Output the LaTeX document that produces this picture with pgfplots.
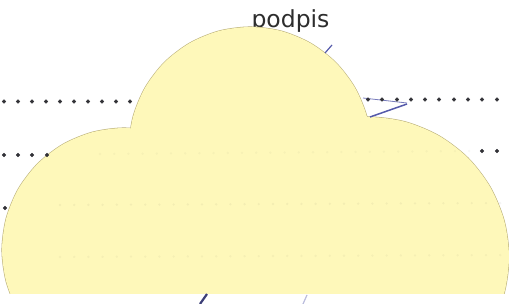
\documentclass[border=0pt]{standalone}
\usepackage{pgfplots}
\pgfplotsset{compat=1.18}
\usepackage{fontspec}
\newfontfamily\labelfont{DejaVu Sans}
\definecolor{cloud}{RGB}{254,248,186}
\definecolor{cloudedge}{RGB}{185,175,120}
\definecolor{dots}{RGB}{50,50,55}
\definecolor{pen}{RGB}{85,90,170}
\definecolor{txt}{RGB}{45,45,45}
\begin{document}
\begin{tikzpicture}
\begin{axis}[width=509pt,height=304pt,scale only axis,
  xmin=0,xmax=509,ymin=0,ymax=304,y dir=reverse,hide axis,clip=true]
% background
\addplot[fill=white,draw=none] coordinates {(-5,-5)(515,-5)(515,310)(-5,310)};
% dotted rows
\addplot[only marks,mark=*,mark size=1.8pt,color=dots] coordinates {
(4,101.5)(18,101.5)(32,101.5)(46,101.5)(60,101.5)(74,101.5)(88,101.5)(102,101.5)(116,101.5)(130,101.5)
(368,99.5)(382,99.5)(397,99.5)(411,99.5)(425,99.5)(439,99.5)(454,99.5)(468,99.5)(482,99.5)(497,99.5)(510,99.5)
(4,155)(18,155)(32,155)(47,155)
(482,151)(497,151)(510,151)
(5,208)(510,203)};
% title text
\node[anchor=base,font=\labelfont\fontsize{23.5}{26}\selectfont,text=txt,inner sep=0pt] at (axis cs:290.5,27.5) {podpis};
% cloud outlines
\addplot[draw=cloudedge,line width=1.1pt,smooth] coordinates {
(124,372)(155.6,367.8)(185,355.7)(210.3,336.3)(229.7,311)(241.8,281.6)(246,250)(241.8,218.4)(229.7,189)(210.3,163.7)(185,144.3)(155.6,132.2)(124,128)(92.4,132.2)(63,144.3)(37.7,163.7)(18.3,189)(6.2,218.4)(2,250)(6.2,281.6)(18.3,311)(37.7,336.3)(63,355.7)(92.4,367.8)(124,372)};
\addplot[draw=cloudedge,line width=1.1pt,smooth] coordinates {
(250,269)(281.3,264.9)(310.5,252.8)(335.6,233.6)(354.8,208.5)(366.9,179.3)(371,148)(366.9,116.7)(354.8,87.5)(335.6,62.4)(310.5,43.2)(281.3,31.1)(250,27)(218.7,31.1)(189.5,43.2)(164.4,62.4)(145.2,87.5)(133.1,116.7)(129,148)(133.1,179.3)(145.2,208.5)(164.4,233.6)(189.5,252.8)(218.7,264.9)(250,269)};
\addplot[draw=cloudedge,line width=1.1pt,smooth] coordinates {
(369,397)(405.2,392.2)(439,378.2)(468,356)(490.2,327)(504.2,293.2)(509,257)(504.2,220.8)(490.2,187)(468,158)(439,135.8)(405.2,121.8)(369,117)(332.8,121.8)(299,135.8)(270,158)(247.8,187)(233.8,220.8)(229,257)(233.8,293.2)(247.8,327)(270,356)(299,378.2)(332.8,392.2)(369,397)};
% cloud fills
\addplot[fill=cloud,draw=none,smooth] coordinates {
(124,372)(155.6,367.8)(185,355.7)(210.3,336.3)(229.7,311)(241.8,281.6)(246,250)(241.8,218.4)(229.7,189)(210.3,163.7)(185,144.3)(155.6,132.2)(124,128)(92.4,132.2)(63,144.3)(37.7,163.7)(18.3,189)(6.2,218.4)(2,250)(6.2,281.6)(18.3,311)(37.7,336.3)(63,355.7)(92.4,367.8)(124,372)};
\addplot[fill=cloud,draw=none,smooth] coordinates {
(250,269)(281.3,264.9)(310.5,252.8)(335.6,233.6)(354.8,208.5)(366.9,179.3)(371,148)(366.9,116.7)(354.8,87.5)(335.6,62.4)(310.5,43.2)(281.3,31.1)(250,27)(218.7,31.1)(189.5,43.2)(164.4,62.4)(145.2,87.5)(133.1,116.7)(129,148)(133.1,179.3)(145.2,208.5)(164.4,233.6)(189.5,252.8)(218.7,264.9)(250,269)};
\addplot[fill=cloud,draw=none,smooth] coordinates {
(369,397)(405.2,392.2)(439,378.2)(468,356)(490.2,327)(504.2,293.2)(509,257)(504.2,220.8)(490.2,187)(468,158)(439,135.8)(405.2,121.8)(369,117)(332.8,121.8)(299,135.8)(270,158)(247.8,187)(233.8,220.8)(229,257)(233.8,293.2)(247.8,327)(270,356)(299,378.2)(332.8,392.2)(369,397)};
% faint dots showing through
\addplot[draw=dots,opacity=0.05,line width=2.6pt,line cap=round,dash pattern=on 0pt off 14.2pt] coordinates {(60,205)(505,203)};
\addplot[draw=dots,opacity=0.045,line width=2.6pt,line cap=round,dash pattern=on 0pt off 14.2pt] coordinates {(60,257)(505,255)};
\addplot[draw=dots,opacity=0.035,line width=2.6pt,line cap=round,dash pattern=on 0pt off 14.2pt] coordinates {(100,154)(470,151)};
% bottom white strip
\addplot[fill=white,draw=none] coordinates {(-5,294)(515,294)(515,310)(-5,310)};
% pen marks
\addplot[draw=pen,line width=1.2pt] coordinates {(325,53)(332,45)};
\addplot[draw=pen,line width=0.8pt,opacity=0.8] coordinates {(363,98)(407,103)};
\addplot[draw=pen,line width=1.5pt] coordinates {(370,117)(407,104)};
\addplot[draw=pen!70!black,line width=2.2pt] coordinates {(200,304)(207,294)};
\addplot[draw=pen!40,line width=1.2pt] coordinates {(303,304)(307,295)};
\end{axis}
\pgfresetboundingbox
\path (current axis.south west) rectangle (current axis.north east);
\end{tikzpicture}
\end{document}
